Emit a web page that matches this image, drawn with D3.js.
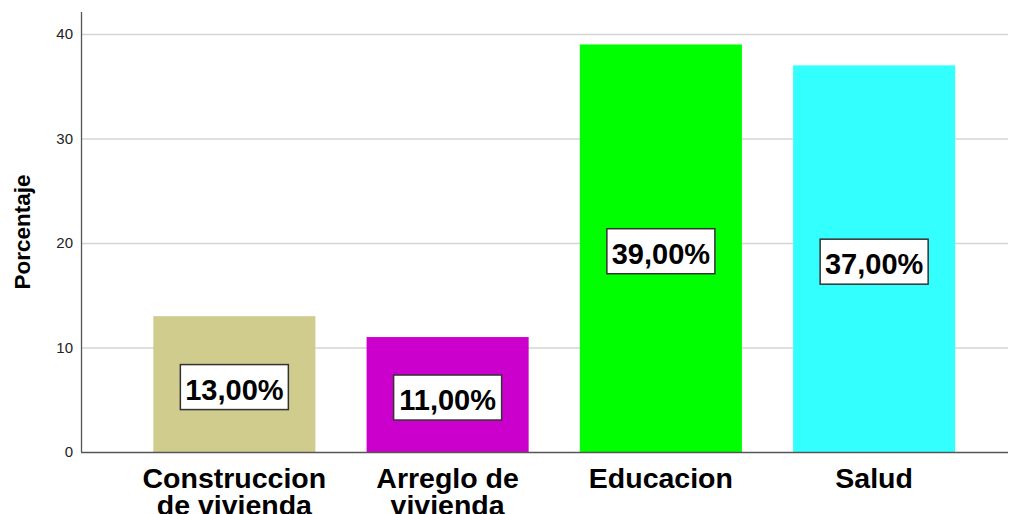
<!DOCTYPE html>
<html><head><meta charset="utf-8">
<script src="https://cdn.jsdelivr.net/npm/d3@7"></script>
<style>body{margin:0;background:#fff}svg{display:block}</style>
</head><body>
<svg id="chart" width="1014" height="514"></svg>
<script>
const categories = [["Construccion","de vivienda"],["Arreglo de","vivienda"],["Educacion"],["Salud"]];
const values = [13, 11, 39, 37];
const valueLabels = ["13,00%","11,00%","39,00%","37,00%"];
const colors = ["#d0cc8e","#cc00cc","#00ff00","#33ffff"];
const yTicks = [0,10,20,30,40];
const yTitle = "Porcentaje";

const svg = d3.select("#chart");
const font = "'Liberation Sans', Arial, sans-serif";
const axisX = 81, plotRight = 1008, y0 = 452;

const x = d3.scaleBand().domain(d3.range(values.length)).range([100, 1008.5])
  .paddingInner(0.24).paddingOuter(0.25);
const y = d3.scaleLinear().domain([0, 40]).range([y0, 34]);

// gridlines
svg.append("g").selectAll("line").data(yTicks.filter(d=>d>0)).join("line")
  .attr("x1", axisX).attr("x2", plotRight)
  .attr("y1", d=>y(d)+0.5).attr("y2", d=>y(d)+0.5)
  .attr("stroke", "#d4d4d4").attr("stroke-width", 1.5);

// bars
svg.append("g").selectAll("rect").data(values).join("rect")
  .attr("x", (d,i)=>x(i)).attr("width", x.bandwidth())
  .attr("y", d=>y(d)).attr("height", d=>y0 - y(d))
  .attr("fill", (d,i)=>colors[i]);

// y axis
const yAxis = d3.axisLeft(y).tickValues(yTicks).tickSize(0).tickPadding(8).tickFormat(d3.format("d"));
const ga = svg.append("g").attr("transform", `translate(${axisX},0)`).call(yAxis);
ga.select(".domain").remove();
ga.selectAll("text").attr("font-family", font).attr("font-size", 15).attr("fill", "#222");
svg.append("line").attr("x1", axisX+0.5).attr("x2", axisX+0.5).attr("y1", 12).attr("y2", y0)
  .attr("stroke", "#555").attr("stroke-width", 1.3);
svg.append("line").attr("x1", axisX).attr("x2", plotRight).attr("y1", y0+0.5).attr("y2", y0+0.5)
  .attr("stroke", "#555").attr("stroke-width", 1.3);

// y title
svg.append("text").attr("transform", `translate(30,232) rotate(-90)`)
  .attr("text-anchor", "middle").attr("font-family", font).attr("font-weight", "bold")
  .attr("font-size", 22.5).attr("fill", "#000").text(yTitle);

// category labels
const cl = svg.append("g").selectAll("text").data(categories).join("text")
  .attr("x", (d,i)=>x(i)+x.bandwidth()/2).attr("y", 488)
  .attr("text-anchor", "middle").attr("font-family", font).attr("font-weight", "bold")
  .attr("font-size", 28.5).attr("fill", "#000");
cl.selectAll("tspan").data(d=>d).join("tspan")
  .attr("x", function(){return this.parentNode.getAttribute("x");})
  .attr("dy", (d,j)=>j===0?0:27).text(d=>d);

// value labels
const lg = svg.append("g").selectAll("g").data(values).join("g")
  .attr("transform", (d,i)=>`translate(${x(i)+x.bandwidth()/2},${(y(d)+y0)/2+3})`);
lg.append("rect").attr("x", -54).attr("y", -22.5).attr("width", 108).attr("height", 45)
  .attr("fill", "#fff").attr("stroke", "#333").attr("stroke-width", 1.5);
lg.append("text").attr("text-anchor", "middle").attr("y", 12.5)
  .attr("font-family", font).attr("font-weight", "bold").attr("font-size", 29)
  .attr("fill", "#000").text((d,i)=>valueLabels[i]);
</script>
</body></html>
